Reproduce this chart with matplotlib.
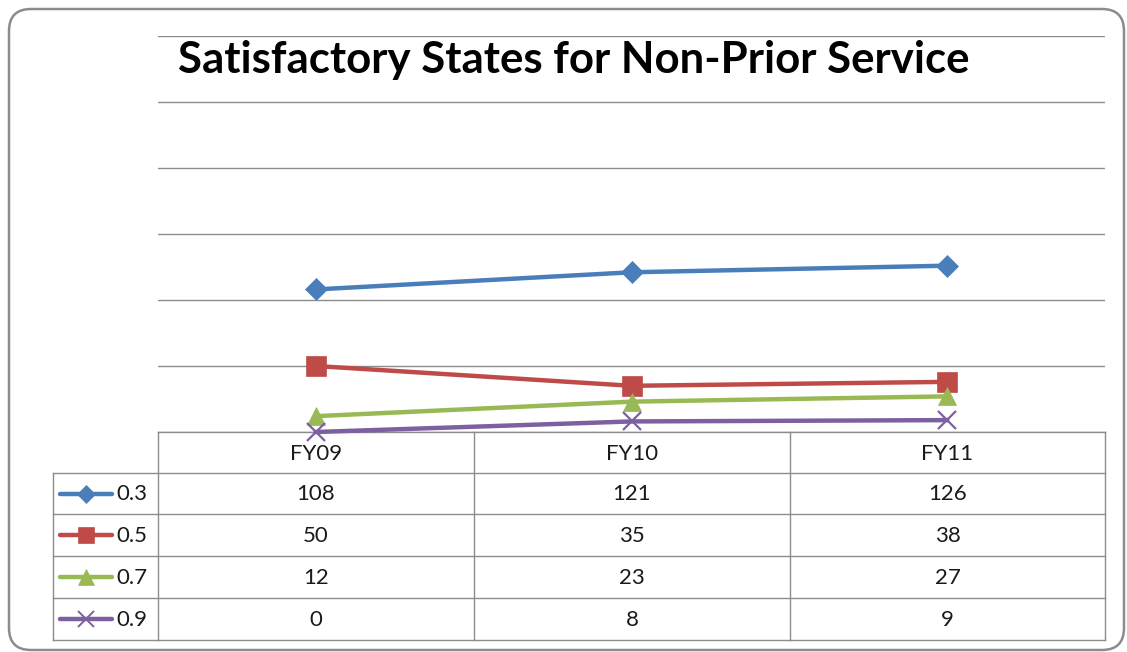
import matplotlib
matplotlib.use("Agg")
import matplotlib.pyplot as plt
from matplotlib.patches import FancyBboxPatch
from matplotlib.lines import Line2D

categories = ["FY09", "FY10", "FY11"]
series_names = ["0.3", "0.5", "0.7", "0.9"]
v03 = [108, 121, 126]
v05 = [50, 35, 38]
v07 = [12, 23, 27]
v09 = [0, 8, 9]
series_values = [v03, v05, v07, v09]
title = "Satisfactory States for Non-Prior Service"

colors = ["#4A7EBB", "#BE4B48", "#98B954", "#7D60A0"]
markers = ["D", "s", "^", "x"]
msizes = [11, 14, 13, 13]

W, H = 1127, 652
fig = plt.figure(figsize=(W / 100, H / 100), dpi=100)
plt.rcParams['font.family'] = ['Lato', 'DejaVu Sans']

def fx(x):
    return x / W

def fy(y):
    return 1 - y / H

# table / frame axes in pixel coordinates
tax = fig.add_axes([0, 0, 1, 1])
tax.set_xlim(0, W)
tax.set_ylim(H, 0)
tax.axis("off")
tax.set_facecolor("none")

# outer rounded border
border = FancyBboxPatch((9, 9), 1115, 641,
                        boxstyle="round,pad=0,rounding_size=22",
                        facecolor="none", edgecolor="#8C8C8C", linewidth=1.8)
tax.add_patch(border)

# plot area
pl, pr, pt, pb = 158, 1105, 36, 432
ax = fig.add_axes([fx(pl), fy(pb), fx(pr) - fx(pl), fy(pt) - fy(pb)])
ax.set_facecolor("none")
ax.set_xlim(-0.5, len(categories) - 0.5)
ax.set_ylim(0, 300)
ax.set_yticks(range(0, 301, 50))
ax.yaxis.grid(True, color="#8C8C8C", linewidth=1.0)
ax.set_axisbelow(True)
for s in ax.spines.values():
    s.set_visible(False)
ax.tick_params(left=False, bottom=False, labelleft=False, labelbottom=False)
x = list(range(len(categories)))
for vals, c, m, ms in zip(series_values, colors, markers, msizes):
    ax.plot(x, vals, color=c, linewidth=3.2, marker=m, markersize=ms,
            markeredgewidth=1.6 if m == "x" else 0.5, markeredgecolor=c,
            markerfacecolor=c, clip_on=False, zorder=3)
ax.set_zorder(2)

# title
fig.text(fx(574), fy(60), title, ha="center", va="center",
         fontsize=31.5, fontweight="bold", color="black")

# data table
tl = 53
col_edges = [158, 474, 790, 1105]
row_edges = [432, 473, 514, 556, 598, 640]
gc = "#8C8C8C"
lw = 1.0
tax.plot([col_edges[0], col_edges[-1]], [row_edges[0]] * 2, color=gc, lw=lw)
for ry in row_edges[1:]:
    tax.plot([tl, col_edges[-1]], [ry, ry], color=gc, lw=lw)
tax.plot([tl, tl], [row_edges[1], row_edges[-1]], color=gc, lw=lw)
for cx in col_edges:
    tax.plot([cx, cx], [row_edges[0], row_edges[-1]], color=gc, lw=lw)

fs = 16
tc = "#1A1A1A"
for j, cat in enumerate(categories):
    cx = (col_edges[j] + col_edges[j + 1]) / 2
    tax.text(cx, (row_edges[0] + row_edges[1]) / 2 + 1, cat, ha="center",
             va="center", fontsize=fs, color=tc)
for i, (name, vals) in enumerate(zip(series_names, series_values)):
    cy = (row_edges[i + 1] + row_edges[i + 2]) / 2 + 1
    for j, v in enumerate(vals):
        cx = (col_edges[j] + col_edges[j + 1]) / 2
        tax.text(cx, cy, str(v), ha="center", va="center", fontsize=fs,
                 color=tc)
    tax.add_line(Line2D([60, 112], [cy - 1, cy - 1], color=colors[i], lw=3.2,
                        solid_capstyle="round"))
    tax.plot([86], [cy - 1], marker=markers[i], color=colors[i],
             markersize=msizes[i] * 0.85,
             markeredgewidth=1.4 if markers[i] == "x" else 0.5)
    tax.text(116, cy, name, ha="left", va="center", fontsize=fs, color=tc)

fig.savefig("out.png", dpi=100)
